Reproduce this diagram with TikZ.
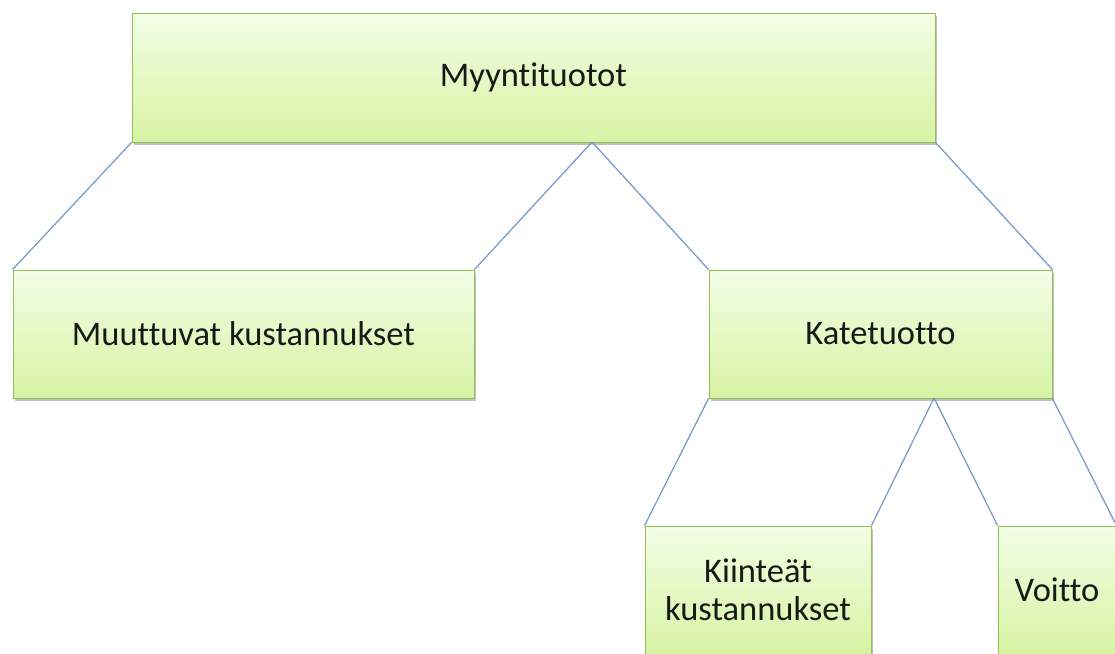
\documentclass[tikz,border=0pt]{standalone}
\usepackage{fontspec}
\setmainfont[Ligatures={NoCommon}]{Carlito}
\usetikzlibrary{shadows}
\definecolor{boxtop}{RGB}{243,254,230}
\definecolor{boxbot}{RGB}{214,243,163}
\definecolor{boxline}{RGB}{150,190,80}
\definecolor{conn}{RGB}{115,150,205}
\tikzset{
  box/.style={rectangle, draw=boxline, line width=0.9pt, top color=boxtop, bottom color=boxbot,
    inner sep=0pt, align=center, font=\fontsize{34.5}{38}\selectfont, text=black!90,
    drop shadow={shadow xshift=1.5pt, shadow yshift=-2.5pt, opacity=0.25, fill=black}},
  link/.style={draw=conn, line width=1.2pt}
}
\begin{document}
\begin{tikzpicture}[x=1pt,y=-1pt]
\useasboundingbox (0,0) rectangle (1115,653);
\clip (0,0) rectangle (1115,653);
\node[box, minimum width=803pt, minimum height=129pt] (top) at (533.5,77.5) {Myyntituotot};
\node[box, minimum width=461pt, minimum height=128pt] (muut) at (243.5,334) {Muuttuvat kustannukset};
\node[box, minimum width=343pt, minimum height=128pt] (kate) at (880.5,334) {Katetuotto};
\node[box, minimum width=226pt, minimum height=128pt] (kiin) at (758,590) {Kiinteät\\kustannukset};
\node[box, minimum width=118pt, minimum height=128pt] (voit) at (1057,590) {Voitto};
\coordinate (j1) at (592,142);
\coordinate (j2) at (934,398);
\draw[link] (top.south west) -- (muut.north west);
\draw[link] (j1) -- (muut.north east);
\draw[link] (j1) -- (kate.north west);
\draw[link] (top.south east) -- (kate.north east);
\draw[link] (kate.south west) -- (kiin.north west);
\draw[link] (j2) -- (kiin.north east);
\draw[link] (j2) -- (voit.north west);
\draw[link] (kate.south east) -- (voit.north east);
\end{tikzpicture}
\end{document}
